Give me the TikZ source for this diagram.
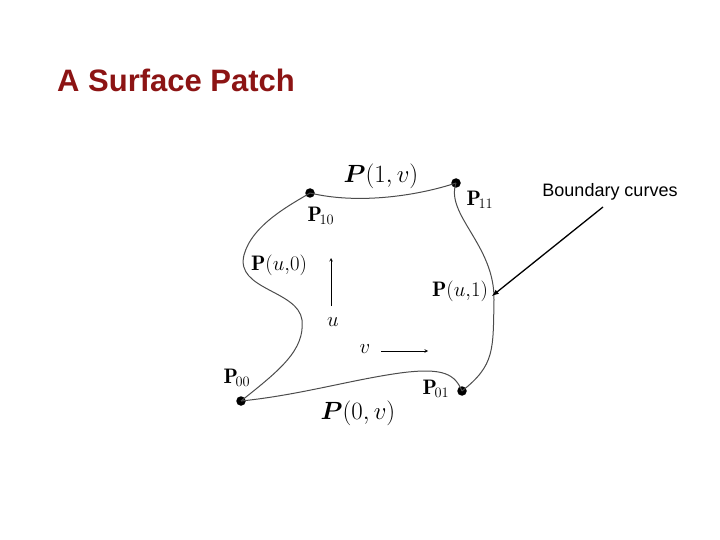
\documentclass[tikz,border=0pt]{standalone}
\usepackage{amsmath}
\usepackage{fontspec}
\newfontfamily\arialf{Liberation Sans}
\begin{document}
\begin{tikzpicture}[x=1pt,y=-1pt,
  dot/.style={circle,fill=black,inner sep=0pt,minimum size=9.5pt},
  lbl/.style={inner sep=1pt,font=\fontsize{21}{25}\selectfont},
  big/.style={inner sep=1pt,font=\fontsize{30}{36}\selectfont},
  curve/.style={draw=black!70,line width=1pt}]
\useasboundingbox (0,0) rectangle (720,540);
\node[anchor=west,font=\arialf\bfseries\fontsize{31}{36}\selectfont,text={rgb,255:red,140;green,20;blue,20},inner sep=0] (title) at (57,80) {A Surface Patch};
\node[dot] (p10) at (310,193) {};
\node[dot] (p11) at (456,183) {};
\node[dot] (p00) at (241,401) {};
\node[dot] (p01) at (462,391) {};
\draw[curve] (p10.center) .. controls (360,205) and (420,195) .. (p11.center);
\draw[curve] (p11.center) .. controls (445,215) and (495,245) .. (494,300) .. controls (493,350) and (495,365) .. (p01.center);
\draw[curve] (p00.center) .. controls (280,370) and (305,350) .. (302,320) .. controls (298,290) and (235,290) .. (244,255) .. controls (252,225) and (290,205) .. (p10.center);
\draw[curve] (p00.center) .. controls (300,395) and (350,380) .. (400,373) .. controls (445,367) and (455,375) .. (p01.center);
\node[big] (top) at (381,176) {$\boldsymbol{P}(1,v)$};
\node[big] (bot) at (358,413) {$\boldsymbol{P}(0,v)$};
\node[lbl] (l10) at (321,216) {$\mathbf{P}_{\!\scriptstyle 10}$};
\node[lbl] (l11) at (480,200) {$\mathbf{P}_{\!\scriptstyle 11}$};
\node[lbl] (l00) at (237,378) {$\mathbf{P}_{\!\scriptstyle 00}$};
\node[lbl] (l01) at (436,389) {$\mathbf{P}_{\!\scriptstyle 01}$};
\node[lbl] (lu0) at (279,265) {$\mathbf{P}(u,\!0)$};
\node[lbl] (lu1) at (460,291) {$\mathbf{P}(u,\!1)$};
\node[lbl] (u) at (333,322) {$u$};
\node[lbl] (v) at (365,349) {$v$};
\coordinate (ua) at (331,306);
\coordinate (ub) at (331,258);
\coordinate (va) at (381,351);
\coordinate (vb) at (428,351);
\draw[-stealth,semithick] (ua) -- (ub);
\draw[-stealth,semithick] (va) -- (vb);
\node[font=\arialf\fontsize{18}{22}\selectfont,inner sep=1pt] (bc) at (610,192) {Boundary curves};
\coordinate (bcs) at (603,207);
\coordinate (bce) at (492,296);
\draw[-latex,line width=1.3pt] (bcs) -- (bce);
\end{tikzpicture}
\end{document}
